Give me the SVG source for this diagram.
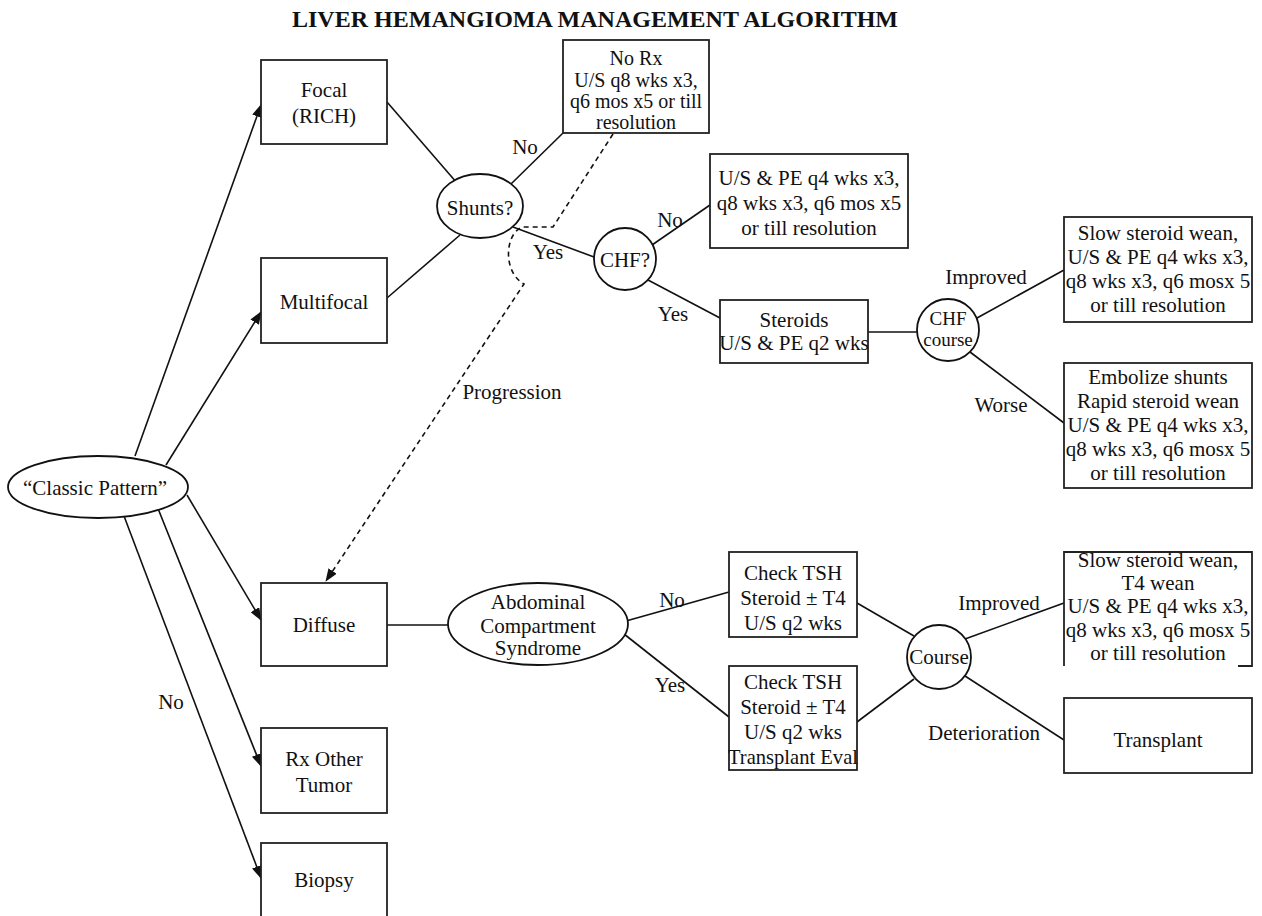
<svg xmlns="http://www.w3.org/2000/svg" width="1262" height="916" viewBox="0 0 1262 916">
<defs>
<style>
text{font-family:"Liberation Serif","Times New Roman",serif;font-size:21px;fill:#111;text-anchor:middle}
.title{font-size:23px;font-weight:bold;text-anchor:start}
.sm{font-size:20px}
.xs{font-size:19px}
.box{fill:#fff;stroke:#222;stroke-width:1.8}
.ell{fill:#fff;stroke:#111;stroke-width:1.8}
.ln{fill:none;stroke:#111;stroke-width:1.6}
.arr{fill:none;stroke:#111;stroke-width:1.6;marker-end:url(#ah)}
.dash{fill:none;stroke:#111;stroke-width:1.6;stroke-dasharray:5 4;marker-end:url(#ah)}
</style>
<marker id="ah" markerUnits="userSpaceOnUse" markerWidth="13" markerHeight="10" refX="12" refY="5" orient="auto">
<path d="M0,0 L13,5 L0,10 z" fill="#111"/>
</marker>
</defs>
<rect width="1262" height="916" fill="#fff"/>
<text class="title" x="292" y="27" textLength="606" lengthAdjust="spacingAndGlyphs">LIVER HEMANGIOMA MANAGEMENT ALGORITHM</text>

<g id="connectors">
<line class="arr" x1="135" y1="456" x2="261" y2="105"/>
<line class="arr" x1="166" y1="465" x2="261" y2="312"/>
<line class="arr" x1="187" y1="495" x2="261" y2="620"/>
<line class="arr" x1="157" y1="506" x2="261" y2="766"/>
<line class="arr" x1="124" y1="516" x2="261" y2="878"/>
<line class="ln" x1="387" y1="102" x2="457" y2="183"/>
<line class="ln" x1="387" y1="298" x2="460" y2="235"/>
<line class="ln" x1="511" y1="184" x2="563" y2="133"/>
<line class="ln" x1="513" y1="227" x2="594" y2="257"/>
<line class="ln" x1="652" y1="245" x2="710" y2="205"/>
<line class="ln" x1="648" y1="280" x2="720" y2="318"/>
<line class="ln" x1="868" y1="332" x2="917" y2="332"/>
<line class="ln" x1="977" y1="318" x2="1064" y2="270"/>
<line class="ln" x1="970" y1="352" x2="1064" y2="423"/>
<line class="ln" x1="387" y1="625" x2="448" y2="625"/>
<line class="ln" x1="626" y1="621" x2="729" y2="592"/>
<line class="ln" x1="624" y1="634" x2="729" y2="717"/>
<line class="ln" x1="857" y1="603" x2="914" y2="636"/>
<line class="ln" x1="857" y1="722" x2="914" y2="679"/>
<line class="ln" x1="965" y1="639" x2="1064" y2="603"/>
<line class="ln" x1="965" y1="676" x2="1064" y2="740"/>
<path class="dash" d="M613,134 L553,227 L523,227 C505,232 502,272 524,284 L326,581"/>
<text x="525" y="154">No</text>
<text x="548" y="259">Yes</text>
<text x="670" y="227">No</text>
<text x="673" y="321">Yes</text>
<text x="986" y="284">Improved</text>
<text x="1001" y="412">Worse</text>
<text x="512" y="399">Progression</text>
<text x="672" y="607">No</text>
<text x="670" y="692">Yes</text>
<text x="999" y="610">Improved</text>
<text x="984" y="740">Deterioration</text>
<text x="171" y="709">No</text>
</g>

<g id="classic">
<ellipse class="ell" cx="98" cy="487" rx="90" ry="31"/>
<text x="95" y="495">“Classic Pattern”</text>
</g>
<g id="focal">
<rect class="box" x="261" y="60" width="126" height="84"/>
<text x="324" y="97">Focal</text>
<text x="324" y="123">(RICH)</text>
</g>
<g id="multifocal">
<rect class="box" x="261" y="258" width="126" height="85"/>
<text x="324" y="309">Multifocal</text>
</g>
<g id="diffuse">
<rect class="box" x="261" y="583" width="126" height="83"/>
<text x="324" y="632">Diffuse</text>
</g>
<g id="rx-other">
<rect class="box" x="261" y="728" width="126" height="85"/>
<text x="324" y="766">Rx Other</text>
<text x="324" y="792">Tumor</text>
</g>
<g id="biopsy">
<rect class="box" x="261" y="843" width="126" height="90"/>
<text x="324" y="887">Biopsy</text>
</g>
<g id="shunts">
<ellipse class="ell" cx="480" cy="206" rx="43" ry="32"/>
<text x="480" y="215">Shunts?</text>
</g>
<g id="no-rx">
<rect class="box" x="563" y="40" width="146" height="93"/>
<text class="sm" x="636" y="65">No Rx</text>
<text class="sm" x="636" y="87">U/S q8 wks x3,</text>
<text class="sm" x="636" y="108">q6 mos x5 or till</text>
<text class="sm" x="636" y="129">resolution</text>
</g>
<g id="chf">
<circle class="ell" cx="625" cy="259" r="31"/>
<text x="625" y="267">CHF?</text>
</g>
<g id="us-pe">
<rect class="box" x="710" y="154" width="198" height="94"/>
<text x="809" y="185">U/S &amp; PE q4 wks x3,</text>
<text x="809" y="210">q8 wks x3, q6 mos x5</text>
<text x="809" y="235">or till resolution</text>
</g>
<g id="steroids">
<rect class="box" x="720" y="300" width="148" height="63"/>
<text x="794" y="327">Steroids</text>
<text x="794" y="350">U/S &amp; PE q2 wks</text>
</g>
<g id="chf-course">
<circle class="ell" cx="948" cy="330" r="31"/>
<text class="xs" x="948" y="325">CHF</text>
<text class="xs" x="948" y="346">course</text>
</g>
<g id="slow-wean-1">
<rect class="box" x="1064" y="217" width="188" height="105"/>
<text x="1158" y="240">Slow steroid wean,</text>
<text x="1158" y="264">U/S &amp; PE q4 wks x3,</text>
<text x="1158" y="288">q8 wks x3, q6 mosx 5</text>
<text x="1158" y="312">or till resolution</text>
</g>
<g id="embolize">
<rect class="box" x="1064" y="363" width="188" height="125"/>
<text x="1158" y="384">Embolize shunts</text>
<text x="1158" y="408">Rapid steroid wean</text>
<text x="1158" y="432">U/S &amp; PE q4 wks x3,</text>
<text x="1158" y="456">q8 wks x3, q6 mosx 5</text>
<text x="1158" y="480">or till resolution</text>
</g>
<g id="abdominal">
<ellipse class="ell" cx="538" cy="624" rx="90" ry="41"/>
<text x="538" y="609">Abdominal</text>
<text x="538" y="633">Compartment</text>
<text x="538" y="655">Syndrome</text>
</g>
<g id="tsh-1">
<rect class="box" x="729" y="552" width="128" height="85"/>
<text x="793" y="580">Check TSH</text>
<text x="793" y="605">Steroid ± T4</text>
<text x="793" y="630">U/S q2 wks</text>
</g>
<g id="tsh-2">
<rect class="box" x="729" y="666" width="128" height="104"/>
<text x="793" y="689">Check TSH</text>
<text x="793" y="714">Steroid ± T4</text>
<text x="793" y="739">U/S q2 wks</text>
<text x="793" y="764" textLength="130" lengthAdjust="spacingAndGlyphs">Transplant Eval</text>
</g>
<g id="course">
<circle class="ell" cx="939" cy="657" r="32"/>
<text x="939" y="664">Course</text>
</g>
<g id="slow-wean-2">
<path class="ln" d="M1064,666 L1064,552 L1252,552 L1252,666 L1238,666" style="stroke:#222;stroke-width:1.8"/>
<text x="1158" y="567">Slow steroid wean,</text>
<text x="1158" y="590">T4 wean</text>
<text x="1158" y="613">U/S &amp; PE q4 wks x3,</text>
<text x="1158" y="637">q8 wks x3, q6 mosx 5</text>
<text x="1158" y="660">or till resolution</text>
</g>
<g id="transplant">
<rect class="box" x="1064" y="698" width="188" height="75"/>
<text x="1158" y="747">Transplant</text>
</g>
</svg>
